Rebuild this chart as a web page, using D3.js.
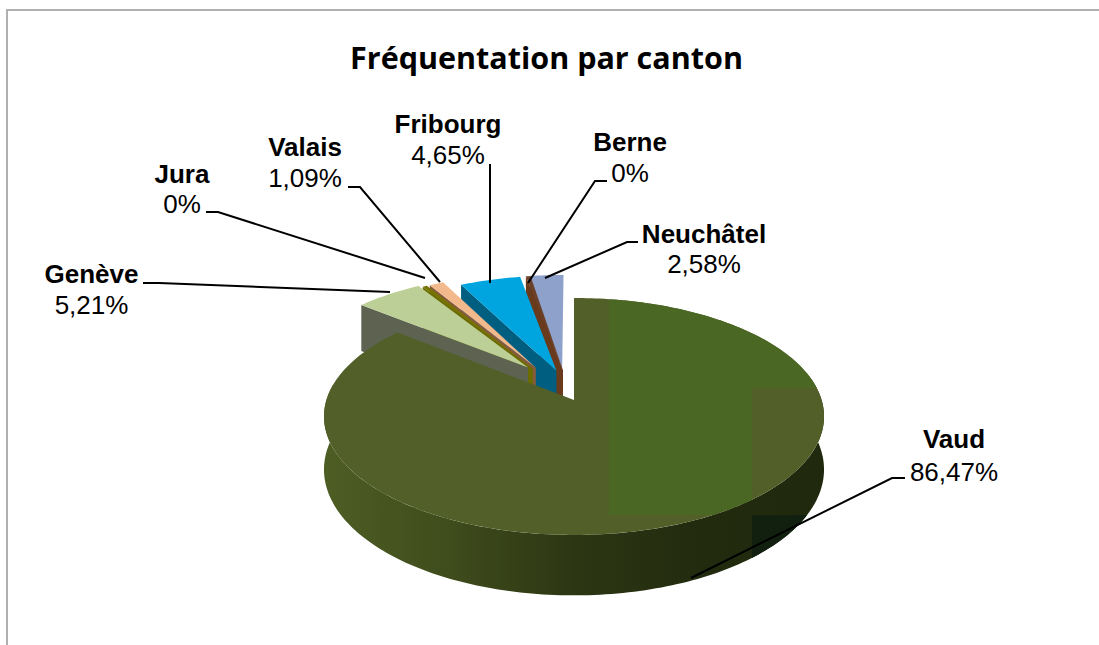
<!DOCTYPE html>
<html><head><meta charset="utf-8">
<script src="https://cdnjs.cloudflare.com/ajax/libs/d3/7.8.5/d3.min.js"></script>
<style>html,body{margin:0;padding:0;background:#fff}svg{display:block}</style></head>
<body><svg id="c" width="1099" height="645"></svg>
<script>
const categories = ["Vaud","Genève","Jura","Valais","Fribourg","Berne","Neuchâtel"];
const percentLabels = ["86,47%","5,21%","0%","1,09%","4,65%","0%","2,58%"];
// values as read; the two "0%" slices still show as thin wedges in the picture
const sliceValues = [86.47,5.21,0.35,1.09,4.65,0.35,2.58];
const explode = [0,0.35,0.33,0.33,0.27,0.27,0.27];
const explodeBias = [0,8,0,0,3,0,-6];
const topColors = ["#525f28","#bccf96","#757500","#f2b98c","#00a5e0","#6a4028","#8ea1cb"];
const wallColors = ["#2b3412","#5d6350","#6b6c00","#85593c","#005f80","#6a3a1c","#6a3a1c"];
const labelLayout = [
 {cx:954,y:[448,481],line:[[905,478],[892,478],[691,578]]},
 {cx:91.5,y:[283,314],line:[[143,283],[159,283],[390,292]]},
 {cx:182,y:[183,213],line:[[206,212],[218,212],[425,278]]},
 {cx:305,y:[156,187],line:[[348,187],[360,187],[440,282]]},
 {cx:448,y:[133,164],line:[[490,164],[490,283]]},
 {cx:630,y:[151,182],line:[[607,181],[595,181],[528,283]]},
 {cx:704,y:[243,273],line:[[638,242],[627,242],[545,278]]}
];
const svg = d3.select("#c");
const x0=574,y0=400,cx=247.6,by=116.2,k=0.139,depth=52;
function proj(X,Y,z){const w=1+k*Y;return [x0+cx*X/w,y0-by*Y/w+(z?depth/w:0)];}
const pie=d3.pie().sort(null).value(d=>d);
const arcs=pie(sliceValues);
const defs=svg.append("defs");
const grad=defs.append("linearGradient").attr("id","side").attr("gradientUnits","userSpaceOnUse").attr("x1",324).attr("x2",823).attr("y1",0).attr("y2",0);
[[0,"#4d5e24"],[0.25,"#3f4c1c"],[0.5,"#2d3613"],[0.75,"#222b0e"],[1,"#20290d"]].forEach(s=>grad.append("stop").attr("offset",s[0]).attr("stop-color",s[1]));

const line=d3.line();
function rim(a0,a1,ox,oy,z){const n=Math.max(2,Math.ceil(Math.abs(a1-a0)/0.02));
 return d3.range(n+1).map(i=>{const a=a0+(a1-a0)*i/n;return proj(ox+Math.sin(a),oy+Math.cos(a),z);});}
function offs(i){const a=arcs[i];const m=(a.startAngle+a.endAngle)/2+explodeBias[i]*Math.PI/180;return [explode[i]*Math.sin(m),explode[i]*Math.cos(m)];}

// frame
svg.append("path").attr("d",line([[7,645],[7,10],[1099,10]])).attr("fill","none").attr("stroke","#b0b0b0").attr("stroke-width",2);

// exploded slices, back to front
const order=[6,5,4,3,2,1];
const gs=svg.append("g").selectAll("g").data(order).join("g");
gs.append("path").attr("d",i=>{const a=arcs[i],[ox,oy]=offs(i);
  const A=proj(ox,oy,false),B=proj(ox+Math.sin(a.startAngle),oy+Math.cos(a.startAngle),false),
        C=proj(ox+Math.sin(a.startAngle),oy+Math.cos(a.startAngle),true),D=proj(ox,oy,true);
  return line([A,B,C,D])+"Z";}).attr("fill",i=>wallColors[i]);
gs.append("path").attr("d",i=>{const a=arcs[i],[ox,oy]=offs(i);
  return line([proj(ox,oy,false),...rim(a.startAngle,a.endAngle,ox,oy,false)])+"Z";}).attr("fill",i=>topColors[i]);

// Vaud side wall
const v=arcs[0];
const sideA=1.35,sideB=Math.min(v.endAngle,4.85);
const sideTop=rim(sideA,sideB,0,0,false),sideBot=rim(sideA,sideB,0,0,true).reverse();
svg.append("path").attr("d",line([...sideTop,...sideBot])+"Z").attr("fill","url(#side)");
defs.append("clipPath").attr("id","sideClip").append("path").attr("d",line([...sideTop,...sideBot])+"Z");
svg.append("rect").attr("x",752).attr("y",515).attr("width",80).attr("height",80).attr("fill","#11200f").attr("clip-path","url(#sideClip)");

// Vaud top
const topPath=line([proj(0,0,false),...rim(v.startAngle,v.endAngle,0,0,false)])+"Z";
defs.append("clipPath").attr("id","topClip").append("path").attr("d",topPath);
svg.append("path").attr("d",topPath).attr("fill",topColors[0]);
const tile=svg.append("g").attr("clip-path","url(#topClip)").attr("fill","#4a6724");
tile.append("rect").attr("x",609).attr("y",290).attr("width",143).attr("height",225);
tile.append("rect").attr("x",752).attr("y",290).attr("width",80).attr("height",98);

// leaders
svg.append("g").selectAll("path").data(labelLayout).join("path")
 .attr("d",d=>line(d.line)).attr("fill","none").attr("stroke","#000").attr("stroke-width",2);

// labels
const lab=svg.append("g").attr("font-family","'Liberation Sans',Arial,sans-serif").attr("font-size",26).attr("text-anchor","middle").attr("fill","#000");
categories.forEach((c,i)=>{const L=labelLayout[i];
 lab.append("text").attr("x",L.cx).attr("y",L.y[0]).attr("font-weight","bold").text(c);
 lab.append("text").attr("x",L.cx).attr("y",L.y[1]).text(percentLabels[i]);
});
svg.append("text").attr("x",546.5).attr("y",69).attr("text-anchor","middle").attr("font-family","'Open Sans',sans-serif").attr("font-weight","bold").attr("font-size",30.5).attr("fill","#000").text("Fréquentation par canton");
</script></body></html>
